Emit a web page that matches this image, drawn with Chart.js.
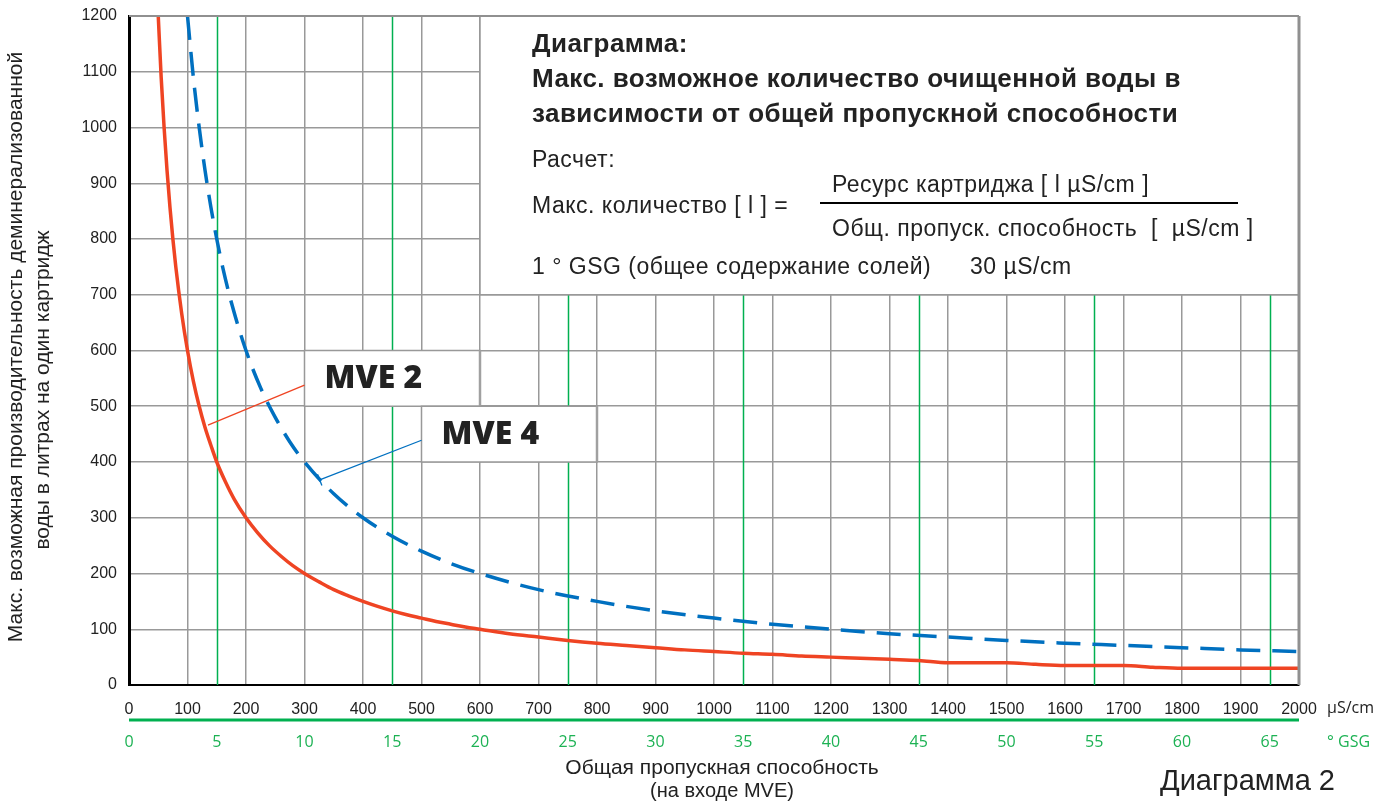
<!DOCTYPE html>
<html>
<head>
<meta charset="utf-8">
<script src="https://cdn.jsdelivr.net/npm/chart.js@4.4.0/dist/chart.umd.min.js"></script>
<style>
  html, body { margin: 0; background: #fff; }
  #wrap { width: 1393px; height: 802px; position: relative; }
</style>
</head>
<body>
<div id="wrap"><canvas id="chart"></canvas></div>
<script>
// MVE 2 curve (µS/cm -> litres)
const mve2X = [50, 55, 60, 65, 70, 75, 80, 90, 100, 110, 120, 130, 140, 150, 165, 180, 200, 220, 240, 260, 280,
  300, 325, 350, 375, 400, 425, 450, 475, 500, 525, 550, 575, 600, 650, 700, 750, 800, 850,
  900, 950, 1000, 1050, 1100, 1150, 1200, 1250, 1300, 1350, 1400, 1500, 1550, 1600, 1700, 1750, 1800, 2000];
const mve2Y = [1200, 1090, 1000, 923, 857, 800, 750, 667, 600, 545, 500, 462, 430, 400, 364, 333, 300, 273, 250, 231, 214,
  200, 185, 171, 160, 150, 141, 133, 126, 120, 114, 109, 104, 100, 92, 86, 80, 75, 71,
  67, 63, 60, 57, 55, 52, 50, 48, 46, 44, 40, 40, 37, 35, 35, 32, 30, 30];

// MVE 4 curve
const mve4X = [100, 110, 120, 130, 140, 150, 160, 175, 200, 225, 250, 275, 300, 350, 400, 450, 500, 550, 600,
  700, 800, 900, 1000, 1100, 1200, 1300, 1400, 1500, 1600, 1700, 1800, 1900, 2000];
const mve4Y = [1200, 1090, 1000, 923, 857, 800, 750, 686, 600, 533, 480, 436, 400, 343, 300, 267, 240, 218, 200,
  171, 150, 133, 120, 109, 100, 92, 86, 80, 75, 71, 67, 63, 60];

// second axis (° GSG) and its green grid lines
const gsgTicks = [0, 5, 10, 15, 20, 25, 30, 35, 40, 45, 50, 55, 60, 65];
const gsgGreenLines = [5, 15, 25, 35, 45, 55, 65];
const usPerGsg = 30;

const RED = '#ef4423';
const BLUE = '#0070c0';
const GREEN = '#00b050';
const GREEN_TXT = '#1db254';

function seg(ctx, x1, y1, x2, y2) {
  ctx.beginPath();
  ctx.moveTo(x1, y1);
  ctx.lineTo(x2, y2);
  ctx.stroke();
}

const labelBoxes = [
  { text: 'MVE 2', x0: 300, x1: 600, y0: 500, y1: 600, color: RED, from: [300, 538], to: [135, 466], tick: false },
  { text: 'MVE 4', x0: 500, x1: 800, y0: 400, y1: 500, color: BLUE, from: [500, 439], to: [326, 368], tick: true }
];

const overlay = {
  id: 'overlay',
  beforeDatasetsDraw(chart) {
    const { ctx, chartArea: a, scales: { x, y } } = chart;
    ctx.save();

    ctx.strokeStyle = GREEN;
    ctx.lineWidth = 1.5;
    gsgGreenLines.forEach(g => {
      const px = Math.round(x.getPixelForValue(g * usPerGsg)) + 0.5;
      seg(ctx, px, a.top, px, a.bottom);
    });

    // info box top right
    const bx = x.getPixelForValue(600), by = y.getPixelForValue(1200);
    const bx2 = x.getPixelForValue(2000), by2 = y.getPixelForValue(700);
    ctx.fillStyle = '#fff';
    ctx.fillRect(bx, by, bx2 - bx, by2 - by);
    ctx.strokeStyle = '#999';
    ctx.lineWidth = 1.5;
    seg(ctx, bx, by, bx, by2);
    seg(ctx, bx, by2, bx2, by2);

    // MVE label boxes with leader lines
    labelBoxes.forEach(b => {
      const l = x.getPixelForValue(b.x0), r = x.getPixelForValue(b.x1);
      const t = y.getPixelForValue(b.y1), btm = y.getPixelForValue(b.y0);
      ctx.fillStyle = '#fff';
      ctx.fillRect(l, t, r - l, btm - t);
      ctx.strokeStyle = '#999';
      ctx.lineWidth = 1.5;
      ctx.strokeRect(l, t, r - l, btm - t);
      ctx.strokeStyle = '#a0a0a0';
      ctx.lineWidth = 2.5;
      seg(ctx, r, t, r, btm);

      ctx.fillStyle = '#222';
      ctx.font = '800 32px "Open Sans"';
      ctx.textAlign = 'left';
      ctx.textBaseline = 'middle';
      ctx.fillText(b.text, l + 20, (t + btm) / 2 + 1);

      const fx = x.getPixelForValue(b.from[0]), fy = y.getPixelForValue(b.from[1]);
      const tx = x.getPixelForValue(b.to[0]), ty = y.getPixelForValue(b.to[1]);
      ctx.strokeStyle = b.color;
      ctx.lineWidth = 1.3;
      seg(ctx, fx, fy, tx, ty);
      if (b.tick) {
        const dx = fx - tx, dy = fy - ty, len = Math.hypot(dx, dy);
        const nx = -dy / len * 6, ny = dx / len * 6;
        seg(ctx, tx - nx, ty - ny, tx + nx, ty + ny);
      }
    });
    ctx.restore();
  },
  afterDraw(chart) {
    const { ctx, chartArea: a, scales: { x, y } } = chart;
    ctx.save();

    // top and right frame
    ctx.strokeStyle = '#909090';
    ctx.lineWidth = 2;
    seg(ctx, a.left, a.top, a.right, a.top);
    ctx.lineWidth = 3;
    seg(ctx, a.right, a.top, a.right, a.bottom);

    // unit of the upper axis
    ctx.fillStyle = '#222';
    ctx.font = '16px "Open Sans"';
    ctx.textAlign = 'left';
    ctx.textBaseline = 'middle';
    ctx.fillText('µS/cm', a.right + 28, 708);

    // green GSG axis
    ctx.strokeStyle = GREEN;
    ctx.lineWidth = 3;
    seg(ctx, a.left, 720, a.right, 720);
    ctx.fillStyle = GREEN_TXT;
    ctx.textAlign = 'center';
    gsgTicks.forEach(g => {
      ctx.fillText(String(g), x.getPixelForValue(g * usPerGsg), 742);
    });
    ctx.textAlign = 'left';
    ctx.fillText('° GSG', a.right + 28, 742);

    // axis titles
    ctx.fillStyle = '#222';
    ctx.font = '21px "Liberation Sans"';
    ctx.textAlign = 'center';
    ctx.fillText('Общая пропускная способность', 722, 768);
    ctx.font = '20px "Liberation Sans"';
    ctx.fillText('(на входе MVE)', 722, 791);

    ctx.font = '29px "Liberation Sans"';
    ctx.textAlign = 'left';
    ctx.fillText('Диаграмма 2', 1160, 782);

    ctx.save();
    ctx.rotate(-Math.PI / 2);
    ctx.font = '21px "Liberation Sans"';
    ctx.textAlign = 'center';
    ctx.fillText('Макс. возможная производительность деминерализованной', -347, 16);
    ctx.fillText('воды в литрах на один картридж', -390, 43);
    ctx.restore();

    // text inside the info box
    const bx = x.getPixelForValue(600) + 52;
    ctx.fillStyle = '#222';
    ctx.textAlign = 'left';
    ctx.font = 'bold 26px "Liberation Sans"';
    ctx.letterSpacing = '0.45px';
    ctx.fillText('Диаграмма:', bx, 45);
    ctx.fillText('Макс. возможное количество очищенной воды в', bx, 80);
    ctx.fillText('зависимости от общей пропускной способности', bx, 115);

    ctx.font = '23px "Liberation Sans"';
    ctx.letterSpacing = '0.5px';
    ctx.fillText('Расчет:', bx, 161);
    ctx.fillText('Макс. количество [ l ] =', bx, 207);
    ctx.fillText('Ресурс картриджа [ l µS/cm ]', 832, 186);
    ctx.fillText('Общ. пропуск. способность  [  µS/cm ]', 832, 230);
    ctx.fillText('1 ° GSG (общее содержание солей)', bx, 268);
    ctx.fillText('30 µS/cm', 970, 268);
    ctx.letterSpacing = '0px';
    ctx.strokeStyle = '#000';
    ctx.lineWidth = 2;
    seg(ctx, 820, 203, 1238, 203);

    ctx.restore();
  }
};

new Chart(document.getElementById('chart'), {
  type: 'line',
  data: {
    datasets: [
      {
        label: 'MVE 2',
        data: mve2X.map((v, i) => ({ x: v, y: mve2Y[i] })),
        borderColor: RED,
        borderWidth: 3.5,
        pointRadius: 0,
        cubicInterpolationMode: 'monotone'
      },
      {
        label: 'MVE 4',
        data: mve4X.map((v, i) => ({ x: v, y: mve4Y[i] })),
        borderColor: BLUE,
        borderWidth: 3.5,
        borderDash: [24, 12],
        pointRadius: 0,
        cubicInterpolationMode: 'monotone'
      }
    ]
  },
  options: {
    responsive: true,
    maintainAspectRatio: false,
    animation: false,
    devicePixelRatio: 1,
    layout: { padding: { left: 0, top: 16, right: 94, bottom: 0 } },
    plugins: { legend: { display: false }, tooltip: { enabled: false } },
    scales: {
      x: {
        type: 'linear',
        min: 0,
        max: 2000,
        afterFit: s => { s.height = 117; s.paddingLeft = 0; s.paddingRight = 0; },
        ticks: {
          stepSize: 100,
          maxRotation: 0,
          autoSkip: false,
          padding: 15,
          color: '#222',
          font: { family: 'Liberation Sans', size: 16 },
          callback: v => String(v)
        },
        grid: { color: '#999', lineWidth: 1.5, drawTicks: false },
        border: { color: '#000', width: 2 }
      },
      y: {
        min: 0,
        max: 1200,
        afterFit: s => { s.width = 129; s.paddingTop = 0; s.paddingBottom = 0; },
        ticks: {
          stepSize: 100,
          padding: 12,
          color: '#222',
          font: { family: 'Liberation Sans', size: 16 },
          callback: v => String(v)
        },
        grid: { color: '#999', lineWidth: 1.5, drawTicks: false },
        border: { color: '#000', width: 3 }
      }
    }
  },
  plugins: [overlay]
});
</script>
</body>
</html>
